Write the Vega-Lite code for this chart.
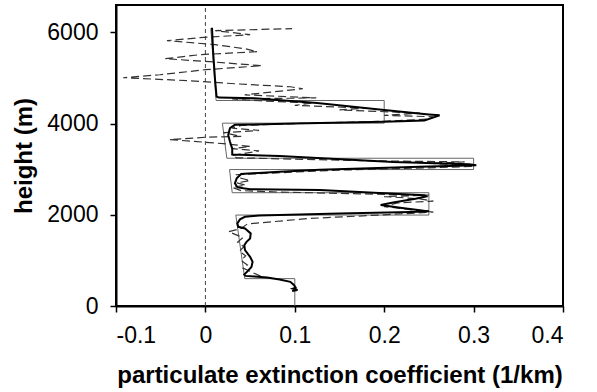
{
  "$schema": "https://vega.github.io/schema/vega-lite/v6.json",
  "width": 447,
  "height": 301,
  "autosize": {"type": "none"},
  "padding": {"left": 116, "top": 5, "right": 34, "bottom": 86},
  "background": "#ffffff",
  "config": {
    "view": {"stroke": "#000000", "strokeWidth": 2},
    "axis": {
      "labelFont": "Liberation Sans",
      "titleFont": "Liberation Sans",
      "labelFontSize": 23,
      "titleFontSize": 24,
      "titleFontWeight": "bold",
      "labelColor": "#000000",
      "titleColor": "#000000",
      "domainColor": "#000000",
      "domainWidth": 2,
      "tickColor": "#000000",
      "tickWidth": 1.5,
      "tickSize": 6,
      "grid": false
    }
  },
  "datasets": {
    "box": [
      {"x": 0.1, "h": 0}, {"x": 0.1, "h": 600}, {"x": 0.044, "h": 600}, {"x": 0.034, "h": 1994},
      {"x": 0.25, "h": 1994}, {"x": 0.25, "h": 2484}, {"x": 0.03, "h": 2484}, {"x": 0.027, "h": 2992},
      {"x": 0.3, "h": 2992}, {"x": 0.3, "h": 3240}, {"x": 0.024, "h": 3240}, {"x": 0.019, "h": 4009},
      {"x": 0.2, "h": 4009}, {"x": 0.2, "h": 4506}, {"x": 0.012, "h": 4506}, {"x": 0.006, "h": 6090}
    ],
    "meas": [
      {"x": 0.062, "h": 650}, {"x": 0.05, "h": 760}, {"x": 0.042, "h": 830}, {"x": 0.047, "h": 900},
      {"x": 0.04, "h": 1000}, {"x": 0.045, "h": 1100}, {"x": 0.038, "h": 1200}, {"x": 0.043, "h": 1300},
      {"x": 0.036, "h": 1400}, {"x": 0.042, "h": 1500}, {"x": 0.026, "h": 1630}, {"x": 0.04, "h": 1700},
      {"x": 0.047, "h": 1800}, {"x": 0.117, "h": 1920}, {"x": 0.2, "h": 2000}, {"x": 0.255, "h": 2060},
      {"x": 0.235, "h": 2100}, {"x": 0.2, "h": 2180}, {"x": 0.215, "h": 2260}, {"x": 0.255, "h": 2300},
      {"x": 0.24, "h": 2350}, {"x": 0.2, "h": 2400}, {"x": 0.25, "h": 2430}, {"x": 0.15, "h": 2470},
      {"x": 0.08, "h": 2500}, {"x": 0.04, "h": 2530}, {"x": 0.03, "h": 2600}, {"x": 0.045, "h": 2650},
      {"x": 0.035, "h": 2700}, {"x": 0.05, "h": 2750}, {"x": 0.04, "h": 2800}, {"x": 0.035, "h": 2880},
      {"x": 0.08, "h": 2920}, {"x": 0.15, "h": 2980}, {"x": 0.25, "h": 3030}, {"x": 0.3, "h": 3060},
      {"x": 0.28, "h": 3100}, {"x": 0.25, "h": 3130}, {"x": 0.29, "h": 3160}, {"x": 0.2, "h": 3180},
      {"x": 0.1, "h": 3220}, {"x": 0.035, "h": 3250}, {"x": 0.03, "h": 3300}, {"x": 0.06, "h": 3400},
      {"x": 0.03, "h": 3450}, {"x": 0.05, "h": 3500}, {"x": 0.02, "h": 3560}, {"x": -0.04, "h": 3650},
      {"x": 0.0, "h": 3700}, {"x": 0.04, "h": 3720}, {"x": 0.02, "h": 3800}, {"x": 0.06, "h": 3850},
      {"x": 0.03, "h": 3900}, {"x": 0.04, "h": 3960}, {"x": 0.1, "h": 4000}, {"x": 0.2, "h": 4050},
      {"x": 0.25, "h": 4100}, {"x": 0.255, "h": 4150}, {"x": 0.2, "h": 4180}, {"x": 0.24, "h": 4230},
      {"x": 0.15, "h": 4300}, {"x": 0.18, "h": 4340}, {"x": 0.1, "h": 4400}, {"x": 0.12, "h": 4450},
      {"x": 0.06, "h": 4500}, {"x": 0.03, "h": 4540}, {"x": 0.124, "h": 4563}, {"x": 0.044, "h": 4631},
      {"x": 0.109, "h": 4763}, {"x": 0.095, "h": 4807}, {"x": 0.033, "h": 4873}, {"x": -0.017, "h": 4939},
      {"x": -0.092, "h": 5005}, {"x": -0.051, "h": 5071}, {"x": 0.0, "h": 5181}, {"x": 0.063, "h": 5269},
      {"x": 0.005, "h": 5357}, {"x": -0.045, "h": 5423}, {"x": -0.006, "h": 5511}, {"x": 0.058, "h": 5576},
      {"x": 0.044, "h": 5642}, {"x": 0.011, "h": 5730}, {"x": -0.043, "h": 5818}, {"x": -0.006, "h": 5884},
      {"x": 0.05, "h": 5950}, {"x": 0.011, "h": 6038}, {"x": 0.097, "h": 6082}
    ],
    "retr": [
      {"x": 0.097, "h": 330}, {"x": 0.103, "h": 350}, {"x": 0.098, "h": 380}, {"x": 0.101, "h": 400},
      {"x": 0.099, "h": 460}, {"x": 0.095, "h": 530}, {"x": 0.083, "h": 580}, {"x": 0.069, "h": 624},
      {"x": 0.055, "h": 645}, {"x": 0.045, "h": 660}, {"x": 0.0435, "h": 690}, {"x": 0.047, "h": 760},
      {"x": 0.0515, "h": 857}, {"x": 0.0528, "h": 967}, {"x": 0.05, "h": 1077}, {"x": 0.0443, "h": 1224},
      {"x": 0.0435, "h": 1334}, {"x": 0.046, "h": 1407}, {"x": 0.05, "h": 1481}, {"x": 0.0507, "h": 1591},
      {"x": 0.0443, "h": 1701}, {"x": 0.0368, "h": 1736}, {"x": 0.0357, "h": 1811}, {"x": 0.0387, "h": 1899},
      {"x": 0.0443, "h": 1956}, {"x": 0.06, "h": 1985}, {"x": 0.15, "h": 2030}, {"x": 0.23, "h": 2060},
      {"x": 0.25, "h": 2075}, {"x": 0.24, "h": 2100}, {"x": 0.22, "h": 2150}, {"x": 0.196, "h": 2213},
      {"x": 0.21, "h": 2270}, {"x": 0.235, "h": 2350}, {"x": 0.247, "h": 2400}, {"x": 0.245, "h": 2430},
      {"x": 0.2, "h": 2470}, {"x": 0.128, "h": 2543}, {"x": 0.05, "h": 2560}, {"x": 0.036, "h": 2600},
      {"x": 0.033, "h": 2690}, {"x": 0.035, "h": 2800}, {"x": 0.04, "h": 2895}, {"x": 0.083, "h": 2945},
      {"x": 0.128, "h": 2990}, {"x": 0.24, "h": 3055}, {"x": 0.303, "h": 3085}, {"x": 0.295, "h": 3110},
      {"x": 0.21, "h": 3160}, {"x": 0.083, "h": 3290}, {"x": 0.03, "h": 3320}, {"x": 0.03, "h": 3450},
      {"x": 0.0275, "h": 3600}, {"x": 0.0255, "h": 3750}, {"x": 0.0275, "h": 3899}, {"x": 0.033, "h": 3972},
      {"x": 0.1, "h": 4000}, {"x": 0.2, "h": 4040}, {"x": 0.245, "h": 4070}, {"x": 0.262, "h": 4180},
      {"x": 0.25, "h": 4200}, {"x": 0.2, "h": 4300}, {"x": 0.125, "h": 4450}, {"x": 0.055, "h": 4555},
      {"x": 0.015, "h": 4570}, {"x": 0.0125, "h": 4594}, {"x": 0.0108, "h": 4960}, {"x": 0.0085, "h": 5620},
      {"x": 0.0074, "h": 6100}
    ],
    "zero": [{"x": 0, "h0": 0, "h1": 6600}]
  },
  "layer": [
    {
      "data": {"name": "zero"},
      "mark": {"type": "rule", "color": "#444444", "strokeWidth": 1, "strokeDash": [4, 3]},
      "encoding": {
        "x": {"field": "x", "type": "quantitative"},
        "y": {"field": "h0", "type": "quantitative"},
        "y2": {"field": "h1"}
      }
    },
    {
      "data": {"name": "box"},
      "mark": {"type": "line", "color": "#666666", "strokeWidth": 1},
      "encoding": {
        "x": {"field": "x", "type": "quantitative"},
        "y": {"field": "h", "type": "quantitative"},
        "order": {"value": null}
      }
    },
    {
      "data": {"name": "meas"},
      "mark": {"type": "line", "color": "#333333", "strokeWidth": 1.2, "strokeDash": [8, 4]},
      "encoding": {
        "x": {"field": "x", "type": "quantitative"},
        "y": {"field": "h", "type": "quantitative"},
        "order": {"value": null}
      }
    },
    {
      "data": {"name": "retr"},
      "mark": {"type": "line", "color": "#000000", "strokeWidth": 2},
      "encoding": {
        "x": {
          "field": "x", "type": "quantitative",
          "scale": {"domain": [-0.1, 0.4], "nice": false, "zero": false},
          "axis": {
            "title": "particulate extinction coefficient (1/km)",
            "values": [-0.1, 0, 0.1, 0.2, 0.3, 0.4],
            "labelExpr": "datum.value < 0 ? '-' + format(-datum.value, '.1f') : (datum.value == 0 ? '0' : format(datum.value, '.1f'))",
            "labelPadding": 12,
            "titlePadding": 16
          }
        },
        "y": {
          "field": "h", "type": "quantitative",
          "scale": {"domain": [0, 6600], "nice": false},
          "axis": {
            "title": "height (m)",
            "values": [0, 2000, 4000, 6000],
            "format": "d",
            "labelPadding": 12,
            "titlePadding": 10
          }
        },
        "order": {"value": null}
      }
    }
  ]
}
